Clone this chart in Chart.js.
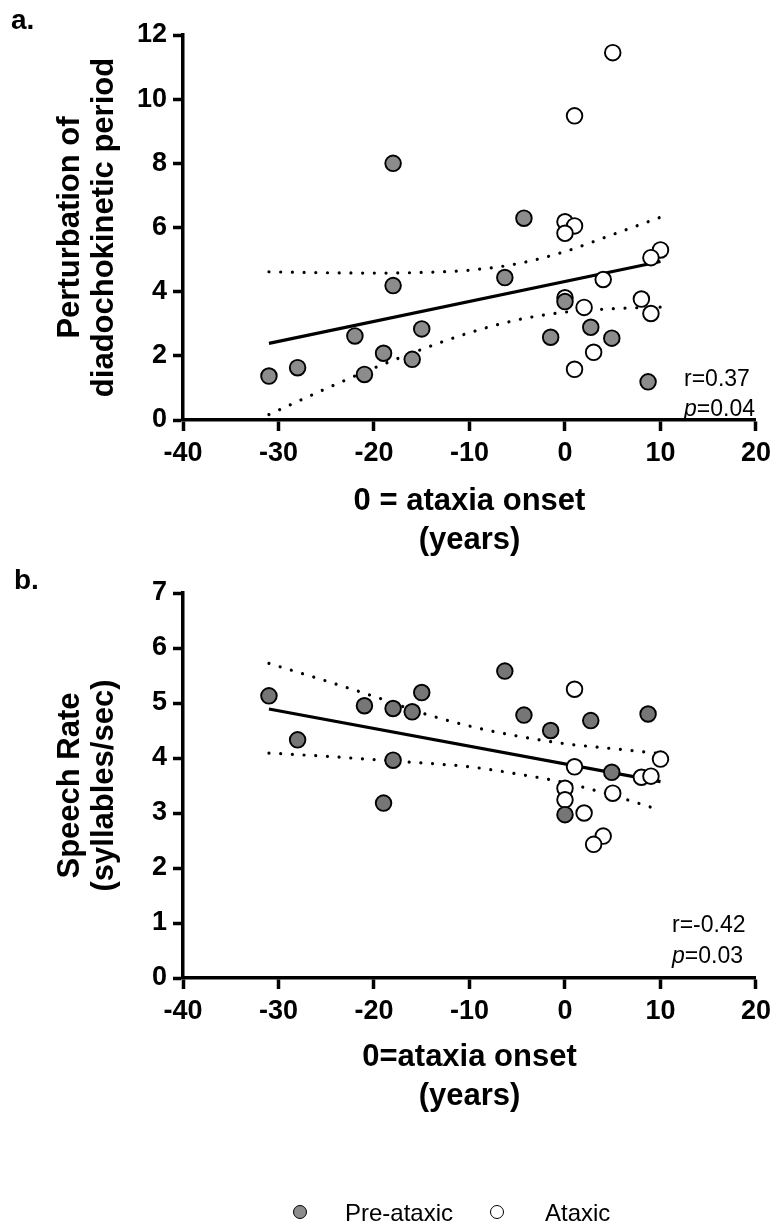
<!DOCTYPE html>
<html>
<head>
<meta charset="utf-8">
<script src="https://cdn.jsdelivr.net/npm/chart.js@4.4.1/dist/chart.umd.min.js"></script>
<style>
  body { margin: 0; background: #fff; }
  #wrap { position: relative; width: 777px; height: 1231px; overflow: hidden; }
  canvas { position: absolute; left: 0; top: 0; }
  .dot { position: absolute; width: 12px; height: 12px; border: 1.6px solid #000; border-radius: 50%; }
  .lbl { position: absolute; font: 24px 'Liberation Sans', Arial, sans-serif; line-height: 26px; color: #000; }
</style>
</head>
<body>
<div id="wrap">
  <canvas id="panelA" width="777" height="1231"></canvas>
  <canvas id="panelB" width="777" height="1231"></canvas>
  <span class="dot" style="left:293px; top:1205px; background:#8c8c8c"></span>
  <span class="lbl" style="left:345px; top:1200px">Pre-ataxic</span>
  <span class="dot" style="left:490px; top:1205px; background:#fff"></span>
  <span class="lbl" style="left:545px; top:1200px">Ataxic</span>
</div>
<script>
const FONT = "'Liberation Sans', Arial, sans-serif";

// panel a: perturbation of diadochokinetic period
const preXa = [-31, -28, -22, -21, -19, -18, -18, -16, -15, -6.3, -4.3, -1.5, 0, 2.7, 4.9, 8.7];
const preYa = [1.37, 1.63, 2.62, 1.42, 2.08, 8.0, 4.19, 1.89, 2.84, 4.44, 6.29, 2.58, 3.69, 2.89, 2.55, 1.19];
const ataXa = [5, 1, 0, 1, 0, 10, 9, 4, 0, 2, 8, 9, 3, 1];
const ataYa = [11.45, 9.48, 6.18, 6.05, 5.82, 5.3, 5.06, 4.38, 3.81, 3.51, 3.77, 3.32, 2.11, 1.58];
const fitYa = [2.39, 4.94];
const upperA = [4.62, 4.59, 4.58, 4.6, 4.67, 4.87, 5.25, 5.78, 6.32];
const lowerA = [0.17, 0.98, 1.62, 2.2, 2.72, 3.12, 3.36, 3.47, 3.52];

// panel b: speech rate
const preXb = [-31, -28, -21, -19, -18, -18, -16, -15, -6.3, -4.3, -1.5, 0, 2.7, 4.9, 8.7];
const preYb = [5.13, 4.33, 4.95, 3.18, 4.9, 3.96, 4.84, 5.19, 5.58, 4.78, 4.5, 2.97, 4.68, 3.74, 4.8];
const ataXb = [1, 10, 1, 8, 9, 0, 0, 5, 2, 4, 3];
const ataYb = [5.25, 3.98, 3.84, 3.65, 3.67, 3.45, 3.24, 3.36, 3.0, 2.58, 2.43];
const fitYb = [4.89, 3.57];
const upperB = [5.72, 5.4, 5.12, 4.82, 4.58, 4.4, 4.26, 4.17, 4.08];
const lowerB = [4.09, 4.03, 3.97, 3.91, 3.84, 3.71, 3.55, 3.32, 3.05];

// shared x positions
const fitX = [-31, 10];
const bandX = [-31, -25, -20, -15, -10, -5, 0, 5, 10];

const pts = (xs, ys) => xs.map((x, i) => ({ x: x, y: ys[i] }));

// r / p text and panel letter
const statsPlugin = {
    id: 'stats',
    afterDraw(chart, args, o) {
        const c = chart.ctx;
        c.save();
        c.fillStyle = '#000';
        c.textAlign = 'left';
        c.textBaseline = 'alphabetic';
        c.font = '23px ' + FONT;
        c.fillText(o.r, o.x, o.y1);
        c.font = 'italic 23px ' + FONT;
        c.fillText('p', o.x, o.y2);
        const w = c.measureText('p').width;
        c.font = '23px ' + FONT;
        c.fillText(o.p, o.x + w, o.y2);
        c.font = 'bold 28px ' + FONT;
        c.fillText(o.tag, o.tagX, o.tagY);
        c.restore();
    }
};

function makePanel(id, cfg) {
    const ctx = document.getElementById(id).getContext('2d');
    const dotted = {
        showLine: true, borderColor: '#000', borderWidth: 3.2, borderDash: [0.01, 11.7],
        borderCapStyle: 'round', pointRadius: 0, cubicInterpolationMode: 'monotone'
    };
    return new Chart(ctx, {
        type: 'scatter',
        data: {
            datasets: [
                { label: 'Pre-ataxic', data: pts(cfg.preX, cfg.preY), backgroundColor: cfg.grey, borderColor: '#000', borderWidth: 1.9, pointRadius: 7.8, order: 0 },
                { label: 'Ataxic', data: pts(cfg.ataX, cfg.ataY), backgroundColor: '#fff', borderColor: '#000', borderWidth: 1.9, pointRadius: 7.8, order: 1 },
                { label: 'fit', data: pts(fitX, cfg.fitY), showLine: true, borderColor: '#000', borderWidth: 3.2, pointRadius: 0, order: 2 },
                Object.assign({ label: 'upper', data: pts(bandX, cfg.upper), order: 3 }, dotted),
                Object.assign({ label: 'lower', data: pts(bandX, cfg.lower), order: 4 }, dotted)
            ]
        },
        options: {
            responsive: false,
            animation: false,
            layout: { padding: { top: cfg.top, right: 19, left: 0, bottom: cfg.bottom } },
            plugins: { legend: { display: false }, tooltip: { enabled: false }, stats: cfg.stats },
            scales: {
                x: {
                    type: 'linear', min: -40, max: 20,
                    ticks: { stepSize: 10, color: '#000', padding: 6, font: { family: FONT, size: 27, weight: 'bold' } },
                    grid: { drawOnChartArea: false, drawTicks: true, tickLength: 11, tickWidth: 3.5, tickColor: '#000', color: '#000' },
                    border: { display: true, color: '#000', width: 3.5 },
                    title: { display: true, text: cfg.xTitle, color: '#000', padding: { top: 0, bottom: cfg.xTitlePad }, font: { family: FONT, size: 31, weight: 'bold', lineHeight: 1.25 } },
                    afterFit(s) { s.height = 160; }
                },
                y: {
                    type: 'linear', min: 0, max: cfg.yMax,
                    ticks: { stepSize: cfg.yStep, color: '#000', padding: 6, font: { family: FONT, size: 27, weight: 'bold' } },
                    grid: { drawOnChartArea: false, drawTicks: true, tickLength: 10, tickWidth: 3.5, tickColor: '#000', color: '#000' },
                    border: { display: true, color: '#000', width: 3.5 },
                    title: { display: true, text: cfg.yTitle, color: '#000', padding: { top: 53, bottom: 0 }, font: { family: FONT, size: 31, weight: 'bold', lineHeight: 1.1 } },
                    afterFit(s) { s.width = 183; }
                }
            }
        },
        plugins: [statsPlugin]
    });
}

document.addEventListener('DOMContentLoaded', function () {
    makePanel('panelA', {
        preX: preXa, preY: preYa, ataX: ataXa, ataY: ataYa, fitY: fitYa, upper: upperA, lower: lowerA,
        grey: '#8c8c8c', top: 35, bottom: 651, yMax: 12, yStep: 2, xTitlePad: 20,
        xTitle: ['0 = ataxia onset', '(years)'],
        yTitle: ['Perturbation of', 'diadochokinetic period'],
        stats: { r: 'r=0.37', p: '=0.04', x: 684, y1: 386, y2: 416, tag: 'a.', tagX: 11, tagY: 29 }
    });
    makePanel('panelB', {
        preX: preXb, preY: preYb, ataX: ataXb, ataY: ataYb, fitY: fitYb, upper: upperB, lower: lowerB,
        grey: '#767676', top: 593, bottom: 93, yMax: 7, yStep: 1, xTitlePad: 22,
        xTitle: ['0=ataxia onset', '(years)'],
        yTitle: ['Speech Rate', '(syllables/sec)'],
        stats: { r: 'r=-0.42', p: '=0.03', x: 672, y1: 932, y2: 963, tag: 'b.', tagX: 14, tagY: 589 }
    });
});
</script>
</body>
</html>
